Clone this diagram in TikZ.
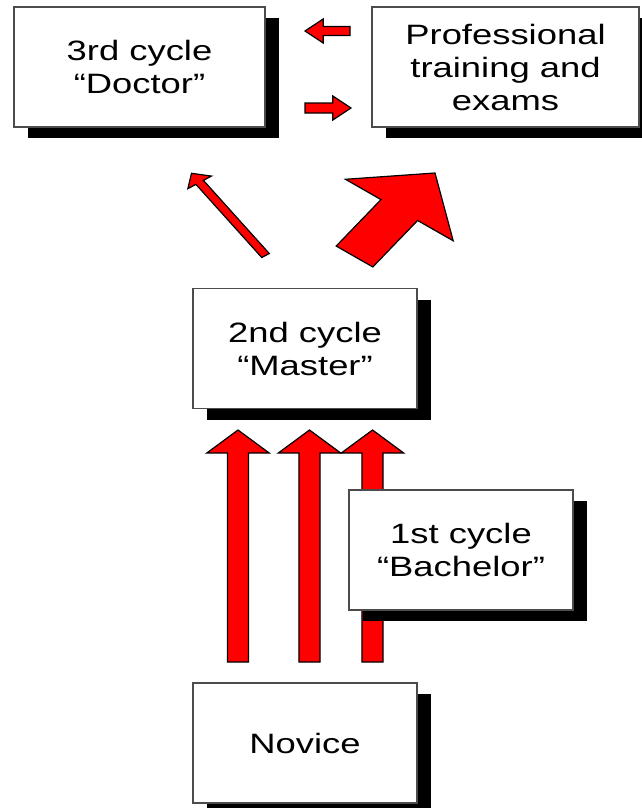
\documentclass[tikz,border=0pt]{standalone}
\usepackage{fontspec}
\newfontfamily\boxfont{Liberation Sans}[FakeStretch=1.3]
\usepackage{tikz}
\usetikzlibrary{calc, shadows}
\def\xst{1.3}
\tikzset{
  box/.style={rectangle, draw=black!70, line width=1.3pt, fill=white,
    minimum width=224pt, minimum height=120pt, inner sep=0pt, align=center,
    font=\boxfont\fontsize{28}{33}\selectfont,
    drop shadow={fill=black, opacity=1, shadow xshift=14pt, shadow yshift=-11pt}},
  blockarrow/.style={fill=red, draw=black, line width=1.2pt, line join=miter}
}
% block arrow: tail, tip, shaft width, head width, head length
\newcommand{\blockarrow}[5]{%
  \filldraw[blockarrow] let \p1=(#1), \p2=(#2),
      \n1={veclen((\x2-\x1)/\xst,\y2-\y1)},
      \p3=({(\x2-\x1)/\n1},{(\y2-\y1)/\n1}),
      \p4=({-(\y2-\y1)*\xst/\n1},{(\x2-\x1)/(\xst*\n1)}),
      \n2={\n1-#5}, \n3={#3/2}, \n4={#4/2} in
    ($(\p1)+\n3*(\p4)$) -- ($(\p1)+\n2*(\p3)+\n3*(\p4)$)
    -- ($(\p1)+\n2*(\p3)+\n4*(\p4)$) -- (\p2)
    -- ($(\p1)+\n2*(\p3)-\n4*(\p4)$) -- ($(\p1)+\n2*(\p3)-\n3*(\p4)$)
    -- ($(\p1)-\n3*(\p4)$) -- cycle;}

\begin{document}
\begin{tikzpicture}[x=1pt, y=1pt]
  \useasboundingbox (0,0) rectangle (641,-808);

  % START: Boxes -----------------------------------
  \node[box, minimum width=251pt] (doctor) at (139.5,-67) {3rd cycle\\“Doctor”};
  \node[box, minimum width=267pt] (prof) at (505.5,-67) {Professional\\training and\\exams};
  \node[box] (master) at (305,-348.5) {2nd cycle\\“Master”};
  \node[box] (novice) at (305,-743) {Novice};
  % END: Boxes -------------------------------------

  % START: Arrow ends ------------------------------
  % Level top
  \coordinate (pd_tail) at (350,-31);
  \coordinate (pd_tip) at (305,-31);
  \coordinate (dp_tail) at (305,-108);
  \coordinate (dp_tip) at (351,-108);
  % Level middle
  \coordinate (md_tail) at (265.5,-255.5);
  \coordinate (md_tip) at (191.5,-173.3);
  \coordinate (mp_tail) at (354.5,-256.5);
  \coordinate (mp_tip) at (435,-173);
  % END: Arrow ends --------------------------------

  \blockarrow{pd_tail}{pd_tip}{9}{24}{14}
  \blockarrow{dp_tail}{dp_tip}{10}{24}{14}
  \blockarrow{md_tail}{md_tip}{7}{22}{11}
  \blockarrow{mp_tail}{mp_tip}{35}{103}{46}

  % Level bottom
  \foreach \i/\x in {1/238, 2/309.5, 3/372.5} {
    \coordinate (nm_\i_tail) at (\x,-662);
    \coordinate (nm_\i_tip) at (\x,-430);
    \blockarrow{nm_\i_tail}{nm_\i_tip}{16.2}{48}{23}
  }

  \node[box] (bachelor) at (461,-550) {1st cycle\\“Bachelor”};
\end{tikzpicture}
\end{document}
